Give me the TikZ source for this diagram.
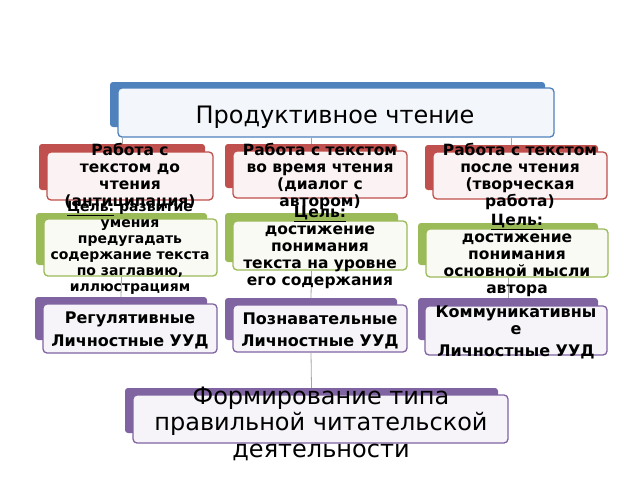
\documentclass[tikz,border=0pt]{standalone}
\usepackage{fontspec}
\setmainfont{DejaVu Sans}
\begin{document}
\begin{tikzpicture}[x=1pt,y=-1pt,
  back/.style={draw=none,fill=#1,rounded corners=3pt,inner sep=0pt},
  front/.style={draw=#1,line width=1.3pt,fill=#1!7!white,rounded corners=4pt,inner sep=0pt},
  txt/.style={align=center,inner sep=0pt,font=\fontsize{15.5}{17}\selectfont\bfseries},
  gtxt/.style={align=center,inner sep=0pt,font=\fontsize{14}{16}\selectfont\bfseries},
  ptxt/.style={align=center,inner sep=0pt,font=\fontsize{16}{23}\selectfont\bfseries},
  big/.style={align=center,inner sep=0pt,font=\fontsize{24}{26.5}\selectfont},
  conn/.style={draw=black!35,line width=0.8pt}]
\definecolor{cblue}{HTML}{4F81BD}
\definecolor{cred}{HTML}{C0504D}
\definecolor{cgreen}{HTML}{9BBB59}
\definecolor{cpurple}{HTML}{8064A2}
\useasboundingbox[fill=white] (0,0) rectangle (640,480);
% back boxes
\node[back=cblue,minimum width=435pt,minimum height=45pt] (topb) at (327.5,104.5) {};
\node[back=cred,minimum width=166pt,minimum height=46pt] (r1b) at (122,167) {};
\node[back=cred,minimum width=172pt,minimum height=44pt] (r2b) at (311,166) {};
\node[back=cred,minimum width=173pt,minimum height=45pt] (r3b) at (511.5,167.5) {};
\node[back=cgreen,minimum width=171pt,minimum height=52pt] (g1b) at (121.5,239) {};
\node[back=cgreen,minimum width=173pt,minimum height=49pt] (g2b) at (311.5,237.5) {};
\node[back=cgreen,minimum width=180pt,minimum height=42pt] (g3b) at (508,244) {};
\node[back=cpurple,minimum width=172pt,minimum height=43pt] (p1b) at (121,318.5) {};
\node[back=cpurple,minimum width=172pt,minimum height=42pt] (p2b) at (311,319) {};
\node[back=cpurple,minimum width=180pt,minimum height=42pt] (p3b) at (508,319) {};
\node[back=cpurple,minimum width=373pt,minimum height=45pt] (botb) at (311.5,410.5) {};
% front boxes
\node[front=cblue,minimum width=436pt,minimum height=49pt] (topf) at (336,112.5) {};
\node[front=cred,minimum width=166pt,minimum height=48pt] (r1f) at (130,176) {};
\node[front=cred,minimum width=174pt,minimum height=47pt] (r2f) at (320,174.5) {};
\node[front=cred,minimum width=174pt,minimum height=47pt] (r3f) at (520,175.5) {};
\node[front=cgreen,minimum width=173pt,minimum height=57pt] (g1f) at (130.5,247.5) {};
\node[front=cgreen,minimum width=174pt,minimum height=49pt] (g2f) at (320,245.5) {};
\node[front=cgreen,minimum width=182pt,minimum height=48pt] (g3f) at (517,253) {};
\node[front=cpurple,minimum width=174pt,minimum height=49pt] (p1f) at (130,328.5) {};
\node[front=cpurple,minimum width=174pt,minimum height=47pt] (p2f) at (320,328.5) {};
\node[front=cpurple,minimum width=182pt,minimum height=49pt] (p3f) at (516,330.5) {};
\node[front=cpurple,minimum width=375pt,minimum height=48pt] (botf) at (320.5,419) {};
% connectors
\draw[conn] (topf.south -| r1b.north) -- (r1b.north);
\draw[conn] (topf.south -| r2b.north) -- (r2b.north);
\draw[conn] (topf.south -| r3b.north) -- (r3b.north);
\draw[conn] (g1f.south -| g1b.south) -- (p1b.north);
\draw[conn] (g2f.south -| g2b.south) -- (p2b.north);
\draw[conn] (g3f.south -| g3b.south) -- (p3b.north);
\draw[conn] (p2f.south -| p2b.south) -- (botb.north);
% texts
\node[big] (toptxt) at (335,117) {Продуктивное чтение};
\node[txt] (r1t) at (130,176) {Работа с\\текстом до\\чтения\\(антиципация)};
\node[txt] (r2t) at (320,176) {Работа с текстом\\во время чтения\\(диалог с\\автором)};
\node[txt] (r3t) at (520,176) {Работа с текстом\\после чтения\\(творческая\\работа)};
\node[gtxt] (g1t) at (130,248) {\underline{Цель:} развитие\\умения\\предугадать\\содержание текста\\по заглавию,\\иллюстрациям};
\node[txt] (g2t) at (320,247.5) {\underline{Цель:}\\достижение\\понимания\\текста на уровне\\его содержания};
\node[txt] (g3t) at (517,255) {\underline{Цель:}\\достижение\\понимания\\основной мысли\\автора};
\node[ptxt] (p1t) at (130,330) {Регулятивные\\Личностные УУД};
\node[ptxt,font=\fontsize{16}{22}\selectfont\bfseries] (p2t) at (320,331) {Познавательные\\Личностные УУД};
\node[ptxt,font=\fontsize{16}{17}\selectfont\bfseries] (p3t) at (516,332) {Коммуникативны\\е\\[5pt]Личностные УУД};
\node[big] (bott) at (321,423.5) {Формирование типа\\правильной читательской\\деятельности};
\end{tikzpicture}
\end{document}
